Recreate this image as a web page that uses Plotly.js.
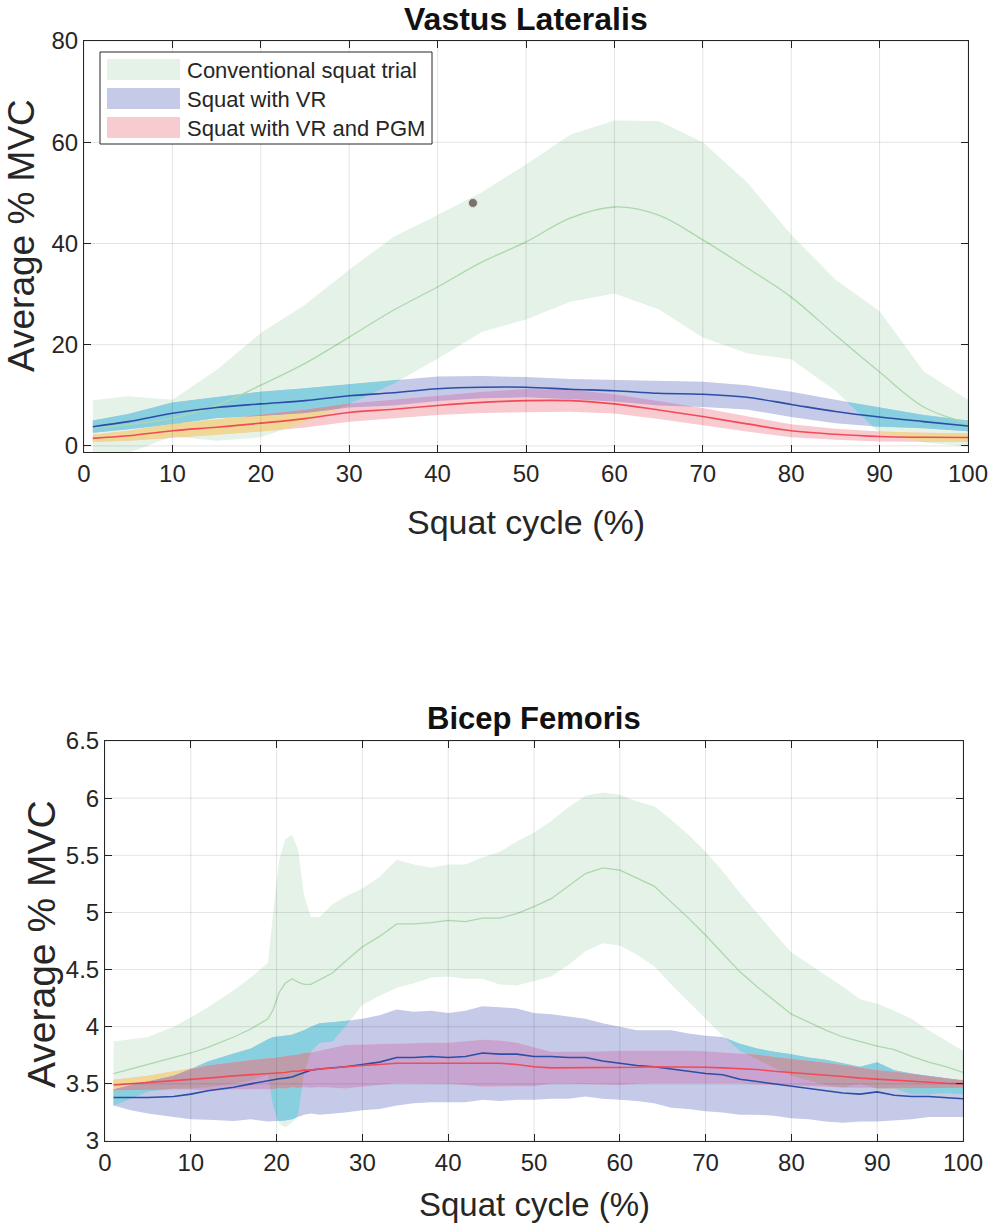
<!DOCTYPE html>
<html>
<head>
<meta charset="utf-8">
<script src="https://cdn.plot.ly/plotly-3.0.1.min.js"></script>
<style>html,body{margin:0;padding:0;background:#fff}#chart{width:988px;height:1224px}</style>
</head>
<body>
<div id="chart"></div>
<script>
// ---------------- DATA : Vastus Lateralis (top) ----------------
const vlX        = [1,5,10,15,20,25,30,35,40,45,50,55,60,65,70,75,80,85,90,95,100];
const vlConvMean = [3.5,4.2,5.5,8.0,12.0,16.3,21.5,26.8,31.4,36.3,40.3,45.0,47.2,45.6,40.7,35.2,29.4,21.9,14.6,7.7,4.5];
const vlConvSD   = [5.5,5.6,3.6,7.0,10.3,11.6,13.3,14.5,14.2,13.8,15.3,16.5,17.1,18.6,19.3,16.9,12.3,11.0,12.0,7.0,4.6];
const vlVRMean   = [3.8,4.8,6.45,7.6,8.3,8.95,9.9,10.5,11.3,11.6,11.6,11.2,10.9,10.4,10.2,9.6,8.2,6.8,5.7,4.8,3.95];
const vlVRSD     = [1.2,1.5,2.15,2.1,2.4,2.45,2.3,2.5,2.4,2.2,2.0,2.0,2.1,2.4,2.5,2.4,2.5,2.3,1.9,1.3,1.05];
const vlPGMMean  = [1.5,2.0,3.0,3.7,4.5,5.4,6.6,7.25,8.0,8.6,8.95,8.95,8.3,7.1,5.8,4.35,3.0,2.3,1.85,1.7,1.65];
const vlPGMSD    = [0.7,1.0,1.4,1.5,1.65,1.75,1.8,1.85,1.9,2.1,2.3,2.2,1.9,1.8,1.7,1.5,1.3,1.1,1.0,0.9,0.85];
const vlMarkerX  = [44];
const vlMarkerY  = [48];
const vlYTicks   = [0,20,40,60,80];

// ---------------- DATA : Bicep Femoris (bottom) ----------------
const bfX = [1,3,5,8,10,12,15,17,19,19.6,20.3,21,21.8,22.5,23.2,24,25,26.5,28,30,32,34,36,38,40,42,44,46,48,50,52,54,56,58,60,62,64,66,68,70,72,74,76,78,80,82,84,86,88,90,92,94,96,98,100];
const bfConvMean = [3.59,3.63,3.67,3.73,3.77,3.82,3.91,3.98,4.07,4.15,4.30,4.38,4.42,4.39,4.37,4.37,4.41,4.47,4.57,4.70,4.79,4.90,4.90,4.91,4.93,4.92,4.95,4.95,4.99,5.05,5.12,5.23,5.34,5.39,5.37,5.30,5.23,5.09,4.95,4.80,4.64,4.48,4.35,4.23,4.11,4.04,3.97,3.91,3.87,3.83,3.80,3.74,3.69,3.65,3.60];
const bfConvSD   = [0.28,0.26,0.24,0.27,0.31,0.35,0.41,0.45,0.49,0.85,1.15,1.26,1.26,1.16,0.78,0.59,0.55,0.60,0.57,0.51,0.52,0.56,0.52,0.48,0.49,0.50,0.53,0.58,0.63,0.65,0.68,0.69,0.68,0.66,0.66,0.67,0.70,0.72,0.73,0.73,0.72,0.69,0.64,0.59,0.54,0.51,0.48,0.44,0.37,0.37,0.34,0.33,0.28,0.23,0.19];
const bfVRMean   = [3.38,3.38,3.38,3.39,3.41,3.44,3.47,3.50,3.53,3.54,3.545,3.55,3.56,3.58,3.60,3.62,3.63,3.64,3.65,3.67,3.69,3.73,3.73,3.74,3.73,3.74,3.77,3.76,3.76,3.74,3.74,3.73,3.73,3.70,3.68,3.66,3.65,3.63,3.61,3.59,3.58,3.54,3.52,3.50,3.48,3.46,3.44,3.42,3.41,3.43,3.40,3.39,3.39,3.38,3.37];
const bfVRSD     = [0.07,0.11,0.14,0.18,0.22,0.255,0.295,0.31,0.36,0.37,0.37,0.37,0.37,0.37,0.37,0.38,0.40,0.40,0.40,0.40,0.41,0.42,0.40,0.40,0.39,0.40,0.41,0.41,0.40,0.38,0.37,0.36,0.34,0.33,0.32,0.31,0.32,0.34,0.33,0.33,0.33,0.31,0.29,0.28,0.28,0.27,0.27,0.26,0.24,0.26,0.22,0.20,0.18,0.17,0.16];
const bfPGMMean  = [3.49,3.50,3.51,3.53,3.54,3.55,3.57,3.58,3.59,3.59,3.60,3.60,3.61,3.61,3.62,3.62,3.63,3.64,3.65,3.66,3.67,3.68,3.68,3.68,3.68,3.68,3.68,3.68,3.67,3.65,3.64,3.64,3.64,3.64,3.64,3.645,3.65,3.65,3.65,3.645,3.64,3.635,3.625,3.61,3.60,3.59,3.58,3.565,3.55,3.54,3.535,3.525,3.515,3.505,3.50];
const bfPGMSD    = [0.045,0.05,0.06,0.08,0.09,0.11,0.12,0.13,0.135,0.135,0.135,0.14,0.14,0.145,0.15,0.155,0.16,0.175,0.19,0.185,0.18,0.175,0.175,0.18,0.18,0.19,0.205,0.20,0.19,0.17,0.14,0.14,0.14,0.145,0.15,0.145,0.145,0.14,0.14,0.14,0.135,0.13,0.13,0.125,0.12,0.11,0.105,0.10,0.09,0.08,0.07,0.06,0.05,0.04,0.035];
const bfYTicks   = [3,3.5,4,4.5,5,5.5,6,6.5];
const bfYTickText= ['3','3.5','4','4.5','5','5.5','6','6.5'];

const xTicks = [0,10,20,30,40,50,60,70,80,90,100];
const seriesNames = ['Conventional squat trial','Squat with VR','Squat with VR and PGM'];

// ---------------- STYLE ----------------
const FONT = 'Liberation Sans, Arial, Helvetica, sans-serif';
const TXT = '#262626';
const COL = {G:'#e5f2e7', B:'#c4cae7', R:'#f8cbd0', GB:'#88cfe0', GR:'#f0d795', BR:'#c8a5d0', GBR:'#bf9ca9',
             Gline:'#acd8ad', Bline:'#2c4ea6', Rline:'#f24a58'};

// ---------------- HELPERS ----------------
function band(mean, sd){ return {lo: mean.map((m,i)=>m-sd[i]), hi: mean.map((m,i)=>m+sd[i])}; }

// region covered by all given bands (piecewise-linear, exact crossings)
function overlapPolygon(xs, bands){
  const curves = [];
  bands.forEach(b => { curves.push(b.lo, b.hi); });
  let xr = xs.slice();
  for (let i = 0; i < xs.length-1; i++){
    for (let a = 0; a < curves.length; a++) for (let b = a+1; b < curves.length; b++){
      const d0 = curves[a][i]-curves[b][i], d1 = curves[a][i+1]-curves[b][i+1];
      if (d0*d1 < 0){ const t = d0/(d0-d1); xr.push(xs[i]+t*(xs[i+1]-xs[i])); }
    }
  }
  xr.sort((p,q)=>p-q);
  xr = xr.filter((v,k)=> k===0 || v-xr[k-1] > 1e-9);
  const at = (ys, x) => { let i = 0; while (i < xs.length-2 && x > xs[i+1]) i++;
    const t = (x-xs[i])/(xs[i+1]-xs[i]); return ys[i]+t*(ys[i+1]-ys[i]); };
  const L = [], H = [];
  xr.forEach(x => {
    L.push(Math.max(...bands.map(b=>at(b.lo,x))));
    H.push(Math.min(...bands.map(b=>at(b.hi,x))));
  });
  const eps = 1e-9, n = xr.length, px = [], py = [];
  const segPos = k => (H[k]-L[k] > eps) || (H[k+1]-L[k+1] > eps);
  let k = 0;
  while (k < n-1){
    if (!segPos(k)){ k++; continue; }
    let e = k+1;
    while (e < n-1 && segPos(e)) e++;
    for (let j = k; j <= e; j++){ px.push(xr[j]); py.push(Math.max(H[j],L[j])); }
    for (let j = e; j >= k; j--){ px.push(xr[j]); py.push(L[j]); }
    px.push(null); py.push(null);
    k = e;
  }
  return {x:px, y:py};
}

function fillTrace(poly, color, xa, ya, name){
  return {type:'scatter', mode:'lines', x:poly.x, y:poly.y, fill:'toself', fillcolor:color,
          line:{width:0, color:color}, hoverinfo:'skip', showlegend:false, xaxis:xa, yaxis:ya, name:name};
}
function lineTrace(x, y, color, width, xa, ya, name, shape){
  return {type:'scatter', mode:'lines', x:x, y:y, line:{color:color, width:width, shape:shape||'linear'},
          showlegend:false, xaxis:xa, yaxis:ya, name:name};
}

function chartTraces(xs, gM, gS, bM, bS, rM, rS, xa, ya, shape){
  const G = band(gM,gS), B = band(bM,bS), R = band(rM,rS);
  return [
    fillTrace(overlapPolygon(xs,[G]), COL.G, xa, ya, seriesNames[0]),
    fillTrace(overlapPolygon(xs,[B]), COL.B, xa, ya, seriesNames[1]),
    fillTrace(overlapPolygon(xs,[R]), COL.R, xa, ya, seriesNames[2]),
    fillTrace(overlapPolygon(xs,[G,B]), COL.GB, xa, ya, 'overlap'),
    fillTrace(overlapPolygon(xs,[G,R]), COL.GR, xa, ya, 'overlap'),
    fillTrace(overlapPolygon(xs,[B,R]), COL.BR, xa, ya, 'overlap'),
    fillTrace(overlapPolygon(xs,[G,B,R]), COL.GBR, xa, ya, 'overlap'),
    lineTrace(xs, gM, COL.Gline, 1.3, xa, ya, seriesNames[0]+' mean', shape),
    lineTrace(xs, bM, COL.Bline, 1.6, xa, ya, seriesNames[1]+' mean', shape),
    lineTrace(xs, rM, COL.Rline, 1.6, xa, ya, seriesNames[2]+' mean', shape)
  ];
}

const traces = [].concat(
  chartTraces(vlX, vlConvMean, vlConvSD, vlVRMean, vlVRSD, vlPGMMean, vlPGMSD, 'x', 'y', 'spline'),
  [{type:'scatter', mode:'markers', x:vlMarkerX, y:vlMarkerY, xaxis:'x', yaxis:'y', showlegend:false,
    marker:{color:'#737373', size:9, line:{color:'#e6dfc4', width:1}}, hoverinfo:'skip'}],
  chartTraces(bfX, bfConvMean, bfConvSD, bfVRMean, bfVRSD, bfPGMMean, bfPGMSD, 'x2', 'y2', 'linear')
);

// ---------------- LAYOUT ----------------
const W = 988, Hh = 1224;
const px2x = p => p/W, px2y = p => 1 - p/Hh;

function gridShapes(xr, yr, xt, yt){
  const s = [], ln = {color:'rgba(0,0,0,0.11)', width:1};
  xt.forEach(v => s.push({type:'line', xref:xr, yref:yr+' domain', x0:v, x1:v, y0:0, y1:1, line:ln, layer:'above'}));
  yt.forEach(v => s.push({type:'line', xref:xr+' domain', yref:yr, x0:0, x1:1, y0:v, y1:v, line:ln, layer:'above'}));
  return s;
}

const legendRows = [
  {name:seriesNames[0], color:COL.G, top:59, bot:80},
  {name:seriesNames[1], color:COL.B, top:88, bot:109},
  {name:seriesNames[2], color:COL.R, top:117, bot:138}
];
const shapes = [].concat(
  gridShapes('x','y', xTicks, vlYTicks),
  gridShapes('x2','y2', xTicks, bfYTicks),
  [{type:'rect', xref:'paper', yref:'paper', x0:px2x(100), x1:px2x(432), y0:px2y(144), y1:px2y(52),
    line:{color:TXT, width:1}, fillcolor:'#ffffff', layer:'above'}],
  legendRows.map(r => ({type:'rect', xref:'paper', yref:'paper', x0:px2x(107), x1:px2x(180),
    y0:px2y(r.bot), y1:px2y(r.top), line:{width:0}, fillcolor:r.color, layer:'above'}))
);

const ann = (text, x, y, size, extra) => Object.assign({text:text, xref:'paper', yref:'paper', x:x, y:y,
  showarrow:false, xanchor:'center', yanchor:'middle', font:{family:FONT, size:size, color:TXT}}, extra||{});

const annotations = [
  ann('<b>Vastus Lateralis</b>', px2x(526), 1, 32, {yanchor:'top', borderpad:0, font:{family:FONT,size:32,color:'#111'}}),
  ann('<b>Bicep Femoris</b>', px2x(534), px2y(718), 31, {font:{family:FONT,size:31,color:'#111'}}),
  ann('Squat cycle (%)', px2x(526), px2y(522), 34),
  ann('Squat cycle (%)', px2x(534), px2y(1204), 33),
  ann('Average % MVC', px2x(22), px2y(236), 37, {textangle:-90}),
  ann('Average % MVC', px2x(41), px2y(944), 39, {textangle:-90})
].concat(legendRows.map(r => ann(r.name, px2x(185), px2y((r.top+r.bot)/2+1), 22, {xanchor:'left'})));

const axBase = {showgrid:false, zeroline:false, showline:true, linecolor:TXT, linewidth:1, mirror:'ticks',
  ticks:'inside', ticklen:7, tickwidth:1, tickcolor:TXT, tickfont:{family:FONT, size:24, color:TXT},
  ticklabeloverflow:'allow', fixedrange:true, automargin:false};

const layout = {
  width:W, height:Hh, margin:{l:0, r:0, t:0, b:0}, paper_bgcolor:'#ffffff', plot_bgcolor:'#ffffff',
  showlegend:false, font:{family:FONT, color:TXT},
  xaxis: Object.assign({}, axBase, {domain:[px2x(84), px2x(968)], range:[0,100], tickvals:xTicks, ticktext:xTicks.map(String), anchor:'y'}),
  yaxis: Object.assign({}, axBase, {domain:[px2y(452), px2y(41)], range:[-1.2,80], tickvals:vlYTicks, ticktext:vlYTicks.map(String), anchor:'x'}),
  xaxis2: Object.assign({}, axBase, {domain:[px2x(105), px2x(963)], range:[0,100], tickvals:xTicks, ticktext:xTicks.map(String), anchor:'y2'}),
  yaxis2: Object.assign({}, axBase, {domain:[px2y(1141), px2y(741)], range:[3,6.5], tickvals:bfYTicks, ticktext:bfYTickText, anchor:'x2'}),
  shapes: shapes,
  annotations: annotations
};

Plotly.newPlot('chart', traces, layout, {staticPlot:true, displayModeBar:false});
</script>
</body>
</html>
